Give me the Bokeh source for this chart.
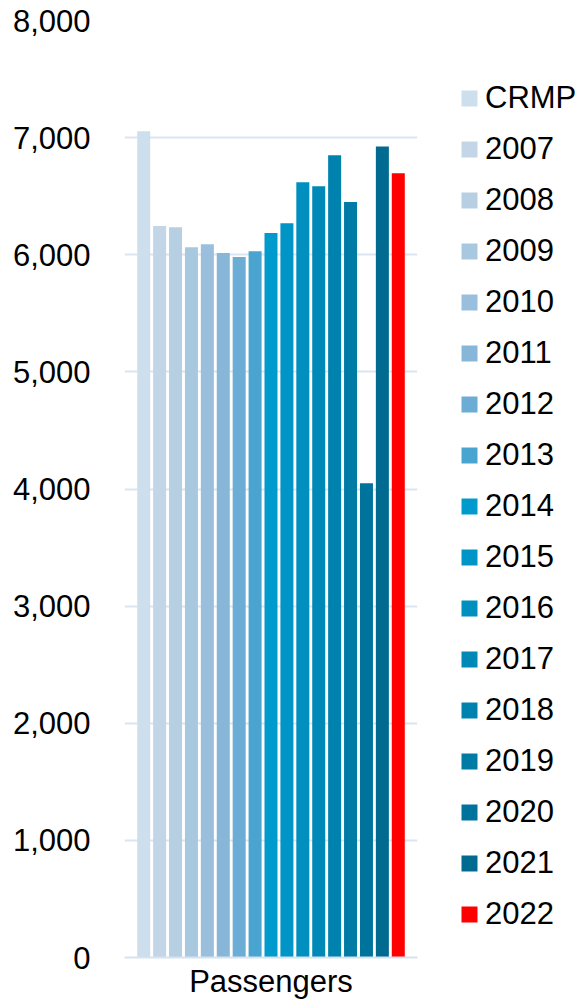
from bokeh.plotting import figure
from bokeh.models import (FactorRange, Range1d, FixedTicker, NumeralTickFormatter,
                          Legend, LegendItem)
from bokeh.transform import dodge
from bokeh.embed import file_html
from bokeh.resources import INLINE

category = ["Passengers"]
series = ["CRMP", "2007", "2008", "2009", "2010", "2011", "2012", "2013", "2014",
          "2015", "2016", "2017", "2018", "2019", "2020", "2021", "2022"]
values = [7055, 6245, 6235, 6065, 6090, 6015, 5980, 6030, 6185,
          6270, 6620, 6585, 6850, 6450, 4050, 6925, 6695]
colors = ["#cddfed", "#c2d6e8", "#b6cfe3", "#a8c8e0", "#99bfdc", "#87b6d9",
          "#6badd5", "#4aa4d0", "#009bcc", "#0095c6", "#008fbe", "#0089b7",
          "#0082af", "#007ba6", "#00739c", "#006a90", "#ff0000"]
y_ticks = [0, 1000, 2000, 3000, 4000, 5000, 6000, 7000, 8000]

FONT = "Liberation Sans"

p = figure(frame_width=293, frame_height=937, x_range=FactorRange(*category),
           y_range=Range1d(0, 8000), output_backend="svg", toolbar_location=None,
           min_border_left=124, min_border_top=20, min_border_right=0,
           min_border_bottom=0)
p.outline_line_color = None

step = 0.0543
bar_w = 0.0444
n = len(series)
items = []
for i, (s, v, c) in enumerate(zip(series, values, colors)):
    off = (i - (n - 1) / 2) * step
    r = p.vbar(x=dodge("x", off, range=p.x_range), top="top", width=bar_w,
               bottom=0, fill_color=c, line_color=None,
               source=dict(x=category, top=[v]))
    items.append(LegendItem(label=s, renderers=[r]))

legend = Legend(items=items, location="top_left", glyph_width=20, glyph_height=20,
                label_standoff=6, spacing=15, padding=0, margin=42,
                title=" ", title_text_font_size="10px", title_standoff=7,
                border_line_color=None, background_fill_alpha=0,
                label_text_font=FONT, label_text_font_size="31px",
                label_text_color="#000000")
p.add_layout(legend, "right")

p.yaxis.ticker = FixedTicker(ticks=y_ticks)
p.yaxis.formatter = NumeralTickFormatter(format="0,0")
p.yaxis.axis_line_color = None
p.yaxis.major_tick_line_color = None
p.yaxis.minor_tick_line_color = None
p.yaxis.major_label_standoff = 28
p.yaxis.major_label_text_font = FONT
p.yaxis.major_label_text_font_size = "31px"
p.yaxis.major_label_text_color = "#000000"

p.xaxis.axis_line_color = "#d5e2f0"
p.xaxis.axis_line_width = 2
p.xaxis.major_tick_line_color = None
p.xaxis.minor_tick_line_color = None
p.xaxis.major_label_standoff = 0
p.xaxis.major_label_text_font = FONT
p.xaxis.major_label_text_font_size = "31px"
p.xaxis.major_label_text_color = "#000000"

p.xgrid.grid_line_color = None
p.ygrid.grid_line_color = "#dbe5f1"
p.ygrid.grid_line_width = 2

open("out.html", "w").write(file_html(p, INLINE))
